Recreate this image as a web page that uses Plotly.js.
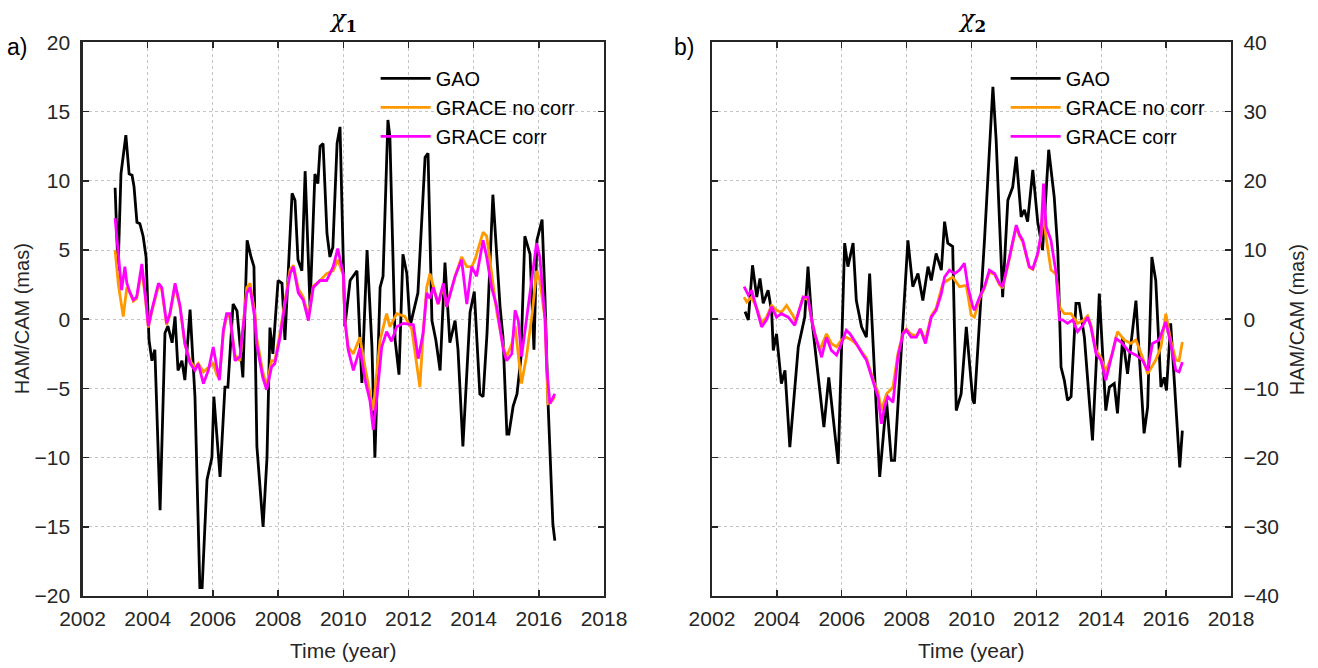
<!DOCTYPE html>
<html>
<head>
<meta charset="utf-8">
<script src="https://cdn.plot.ly/plotly-3.0.1.min.js"></script>
<style>html,body{margin:0;padding:0;background:#fff;}#chart{width:1318px;height:668px;}</style>
</head>
<body>
<div id="chart"></div>
<script>
// ---------- Panel a) chi_1 ----------
const chi1GaoT = [2003.00,2003.09,2003.18,2003.33,2003.43,2003.52,2003.58,2003.67,2003.76,2003.86,2003.95,2004.04,2004.13,2004.22,2004.38,2004.53,2004.62,2004.75,2004.84,2004.93,2005.05,2005.14,2005.30,2005.45,2005.60,2005.67,2005.82,2005.97,2006.03,2006.22,2006.37,2006.46,2006.62,2006.74,2006.92,2007.05,2007.17,2007.26,2007.35,2007.54,2007.66,2007.75,2007.84,2008.00,2008.12,2008.21,2008.43,2008.52,2008.61,2008.73,2008.83,2008.98,2009.13,2009.22,2009.29,2009.38,2009.50,2009.59,2009.68,2009.81,2009.90,2010.05,2010.21,2010.42,2010.57,2010.73,2010.88,2010.97,2011.13,2011.22,2011.37,2011.43,2011.59,2011.71,2011.83,2011.95,2012.05,2012.29,2012.51,2012.60,2012.72,2012.84,2012.97,2013.12,2013.27,2013.43,2013.52,2013.67,2013.89,2014.02,2014.19,2014.29,2014.41,2014.59,2014.81,2014.90,2015.02,2015.08,2015.21,2015.33,2015.45,2015.57,2015.73,2015.85,2015.94,2016.10,2016.19,2016.28,2016.43,2016.49];
const chi1Gao = [9.5,3.5,10.5,13.3,10.5,10.4,9.6,7.0,6.9,6.0,4.5,-1.5,-3.0,-2.2,-13.8,-1.0,-0.5,-1.7,0.2,-3.7,-3.0,-4.4,0.7,-5.6,-19.4,-19.4,-11.6,-10.0,-5.6,-11.4,-4.9,-4.9,1.1,0.6,-4.2,5.7,4.5,3.8,-9.2,-15.0,-10.0,-0.6,-2.5,2.8,2.6,-1.5,9.1,8.6,4.3,3.5,10.7,0.9,10.5,9.8,12.5,12.7,6.2,4.5,5.2,12.7,13.9,-0.5,2.8,3.5,-4.6,5.0,-2.0,-10.0,2.3,3.1,14.4,13.2,-1.5,-4.0,4.7,3.3,-0.5,1.9,11.7,12.0,-0.1,-1.5,-3.7,4.1,-1.7,-0.1,-2.2,-9.2,0.5,2.0,-5.4,-5.6,-1.0,9.0,0.9,-1.3,-8.3,-8.3,-6.3,-5.4,-2.8,6.0,4.7,-2.2,5.7,7.2,1.4,-5.9,-14.8,-16.0];

const chi1NoCorrT = [2003.00,2003.10,2003.25,2003.36,2003.46,2003.56,2003.66,2003.82,2003.92,2004.02,2004.12,2004.33,2004.43,2004.58,2004.68,2004.84,2004.99,2005.14,2005.30,2005.45,2005.55,2005.71,2005.86,2006.01,2006.12,2006.20,2006.32,2006.42,2006.52,2006.68,2006.83,2006.98,2007.04,2007.14,2007.29,2007.34,2007.53,2007.65,2007.80,2007.90,2008.06,2008.21,2008.37,2008.47,2008.62,2008.77,2008.93,2009.08,2009.29,2009.49,2009.69,2009.83,2010.00,2010.05,2010.15,2010.31,2010.51,2010.67,2010.82,2010.92,2011.02,2011.13,2011.33,2011.43,2011.64,2011.89,2012.10,2012.35,2012.45,2012.56,2012.66,2012.91,2013.07,2013.17,2013.43,2013.63,2013.79,2013.94,2014.04,2014.29,2014.40,2014.55,2014.71,2014.91,2015.01,2015.17,2015.27,2015.47,2015.62,2015.80,2015.93,2016.03,2016.19,2016.28,2016.37,2016.49];
const chi1NoCorr = [5.0,2.5,0.2,2.3,1.9,1.3,1.5,3.6,1.7,-0.6,0.5,2.4,2.2,-0.4,0.3,2.4,0.9,-1.8,-3.0,-3.5,-3.2,-3.8,-3.5,-3.2,-4.0,-4.3,-1.0,0.2,0.2,-2.6,-3.0,0.6,2.3,2.6,0.4,-1.3,-3.8,-4.8,-3.0,-3.0,-1.0,1.3,3.6,3.9,2.2,1.6,0.2,2.4,2.8,3.3,3.5,4.3,3.2,0.0,-2.0,-2.5,-1.3,-3.5,-5.2,-6.6,-4.0,-1.5,0.4,-0.55,0.4,0.2,-0.7,-4.9,-1.0,2.3,3.3,1.1,2.4,0.9,3.1,4.5,3.8,3.8,4.3,6.3,6.0,3.3,0.5,-2.0,-2.7,-1.8,-0.5,-4.65,-2.7,0.5,3.5,2.8,0.0,-6.1,-6.0,-5.6];

const chi1CorrT = [2003.00,2003.10,2003.20,2003.30,2003.36,2003.46,2003.56,2003.66,2003.82,2003.92,2004.02,2004.12,2004.33,2004.43,2004.58,2004.68,2004.84,2004.99,2005.14,2005.30,2005.45,2005.55,2005.71,2005.86,2006.01,2006.12,2006.20,2006.32,2006.42,2006.52,2006.68,2006.83,2006.98,2007.04,2007.14,2007.29,2007.34,2007.53,2007.65,2007.80,2007.90,2008.06,2008.21,2008.37,2008.47,2008.62,2008.77,2008.93,2009.08,2009.29,2009.49,2009.69,2009.83,2010.00,2010.05,2010.15,2010.31,2010.51,2010.67,2010.82,2010.92,2011.02,2011.18,2011.33,2011.48,2011.64,2011.84,2012.15,2012.30,2012.45,2012.56,2012.66,2012.76,2012.91,2013.07,2013.17,2013.43,2013.63,2013.79,2013.94,2014.09,2014.29,2014.40,2014.55,2014.71,2014.91,2015.01,2015.17,2015.27,2015.37,2015.47,2015.65,2015.80,2015.93,2016.03,2016.19,2016.24,2016.34,2016.49];
const chi1Corr = [7.3,4.8,2.1,3.8,2.6,1.9,1.4,1.6,4.0,1.9,-0.5,0.6,2.6,2.3,-0.3,0.4,2.6,1.0,-1.75,-3.2,-3.7,-3.2,-4.65,-3.7,-2.0,-3.45,-4.4,-0.8,0.4,0.4,-3.0,-2.7,0.4,1.9,2.3,0.0,-1.75,-4.2,-5.1,-3.45,-3.2,-1.3,1.1,3.3,3.8,1.9,1.4,-0.1,2.3,2.8,2.8,3.8,5.1,3.3,-0.1,-2.2,-3.7,-2.1,-4.4,-5.9,-8.0,-5.9,-2.0,-0.9,-1.6,-0.55,-0.3,-0.4,-2.85,-1.0,1.9,1.5,2.3,1.1,2.6,0.9,3.1,4.3,1.1,3.8,3.1,5.7,4.5,2.3,0.9,-2.2,-3.0,-2.5,0.65,-0.1,-2.7,0.5,3.0,5.5,4.5,0.0,-3.45,-6.1,-5.4];

// ---------- Panel b) chi_2 ----------
const chi2GaoT = [2003.02,2003.12,2003.25,2003.38,2003.48,2003.58,2003.73,2003.84,2003.89,2003.99,2004.14,2004.25,2004.40,2004.66,2004.86,2004.96,2005.07,2005.22,2005.45,2005.60,2005.89,2006.09,2006.19,2006.35,2006.45,2006.61,2006.76,2006.86,2007.17,2007.38,2007.53,2007.63,2007.78,2008.04,2008.19,2008.35,2008.50,2008.66,2008.76,2008.91,2009.07,2009.17,2009.27,2009.42,2009.53,2009.68,2009.84,2009.94,2010.04,2010.09,2010.19,2010.40,2010.66,2010.76,2010.96,2011.12,2011.27,2011.38,2011.53,2011.63,2011.73,2011.89,2012.04,2012.19,2012.38,2012.55,2012.66,2012.76,2012.86,2012.96,2013.07,2013.22,2013.32,2013.48,2013.63,2013.73,2013.84,2013.94,2014.14,2014.25,2014.40,2014.50,2014.66,2014.81,2015.07,2015.32,2015.43,2015.56,2015.68,2015.84,2015.94,2016.01,2016.14,2016.35,2016.42,2016.50];
const chi2Gao = [1.1,-0.1,7.8,3.2,5.9,2.3,4.2,1.05,-4.5,-2.1,-9.3,-7.4,-18.5,-4.0,0.3,7.6,0.3,-5.9,-15.6,-8.4,-20.9,11.0,7.6,11.0,2.7,-1.1,-2.6,6.6,-22.8,-11.7,-20.4,-20.4,-9.3,11.4,4.7,6.6,2.7,7.6,5.6,9.5,7.1,14.1,11.0,10.5,-13.2,-10.8,-1.1,-5.9,-11.7,-12.2,-4.5,11.4,33.6,25.9,3.2,17.2,19.1,23.5,14.8,15.8,14.1,21.6,14.1,10.0,24.5,17.7,10.0,-6.9,-8.8,-11.7,-11.2,2.3,2.3,-2.6,-11.7,-17.5,-6.9,3.7,-13.2,-9.8,-9.3,-13.6,-2.6,-7.9,2.7,-16.5,-12.7,9.0,5.6,-9.8,-8.4,-10.3,-0.6,-17.5,-21.4,-16.1];

const chi2NoCorrT = [2002.99,2003.07,2003.22,2003.38,2003.53,2003.68,2003.84,2003.99,2004.14,2004.30,2004.50,2004.58,2004.81,2004.96,2005.07,2005.17,2005.32,2005.53,2005.68,2005.84,2005.99,2006.14,2006.30,2006.45,2006.66,2006.76,2007.02,2007.12,2007.22,2007.38,2007.58,2007.73,2007.89,2007.99,2008.14,2008.30,2008.42,2008.58,2008.76,2008.91,2009.12,2009.42,2009.63,2009.84,2009.99,2010.09,2010.25,2010.40,2010.55,2010.71,2010.86,2010.96,2011.17,2011.38,2011.48,2011.58,2011.78,2011.89,2012.04,2012.14,2012.19,2012.45,2012.61,2012.71,2012.86,2013.07,2013.27,2013.43,2013.58,2013.68,2013.84,2013.99,2014.14,2014.34,2014.50,2014.71,2014.91,2015.07,2015.27,2015.43,2015.68,2015.84,2015.99,2016.14,2016.30,2016.40,2016.50];
const chi2NoCorr = [3.2,2.5,3.2,1.6,-0.5,0.3,2.0,1.3,1.0,2.0,0.5,-0.3,3.2,2.8,0.0,-2.0,-4.5,-2.1,-3.5,-4.0,-3.0,-2.6,-3.0,-3.6,-5.0,-5.6,-9.5,-10.5,-13.2,-10.8,-9.8,-5.0,-2.0,-1.4,-2.2,-2.4,-1.4,-3.0,0.5,1.6,5.2,6.1,4.7,4.9,0.6,0.3,3.0,4.5,6.8,6.5,5.0,4.5,8.8,13.4,12.0,11.2,7.5,7.2,9.3,11.8,15.3,7.1,6.5,1.8,0.8,0.8,-0.6,-0.2,0.5,-0.8,-4.5,-5.5,-7.6,-5.0,-1.8,-3.0,-3.5,-3.0,-5.5,-7.9,-5.9,-4.0,0.8,-3.0,-5.9,-6.0,-3.3];

const chi2CorrT = [2002.99,2003.12,2003.22,2003.38,2003.53,2003.68,2003.84,2003.99,2004.14,2004.35,2004.55,2004.81,2004.96,2005.07,2005.17,2005.38,2005.53,2005.68,2005.84,2005.99,2006.14,2006.25,2006.45,2006.66,2006.76,2007.02,2007.12,2007.22,2007.32,2007.42,2007.58,2007.73,2007.89,2007.99,2008.14,2008.30,2008.42,2008.58,2008.76,2008.91,2009.07,2009.17,2009.32,2009.48,2009.63,2009.78,2009.89,2010.04,2010.09,2010.25,2010.40,2010.55,2010.71,2010.86,2010.96,2011.17,2011.38,2011.48,2011.58,2011.78,2011.89,2012.04,2012.14,2012.22,2012.30,2012.45,2012.61,2012.71,2012.81,2012.96,2013.12,2013.27,2013.43,2013.58,2013.68,2013.84,2013.99,2014.14,2014.30,2014.45,2014.61,2014.86,2015.07,2015.27,2015.43,2015.58,2015.78,2015.99,2016.14,2016.30,2016.40,2016.50];
const chi2Corr = [4.7,3.5,4.2,1.3,-1.1,-0.1,1.8,0.3,0.8,0.3,-0.9,3.2,3.2,-0.1,-2.1,-5.5,-2.6,-4.5,-5.2,-3.5,-1.6,-2.1,-3.5,-5.2,-5.9,-9.8,-11.2,-15.1,-12.7,-11.2,-12.0,-5.5,-2.1,-1.6,-2.6,-2.6,-1.4,-3.5,0.3,1.3,3.7,6.1,7.1,6.6,7.1,8.1,4.7,1.8,1.3,3.2,4.7,7.1,6.6,5.2,4.7,9.0,13.6,12.2,11.4,7.6,7.3,9.5,12.2,19.6,13.4,11.4,6.6,-0.1,-0.1,-0.6,-0.1,-1.8,-0.9,0.3,-1.1,-5.0,-5.9,-8.8,-5.9,-2.8,-3.3,-4.7,-5.2,-5.9,-7.4,-3.5,-3.0,-0.4,-3.5,-7.4,-7.6,-6.2];

const seriesNames = ['GAO', 'GRACE no corr', 'GRACE corr'];
const seriesColors = ['#000000', '#FF9900', '#FF00FF'];

const F = 'Liberation Sans, Arial, Helvetica, sans-serif';
const AX = '#262626';

function tr(x, y, i, xa, ya, leg) {
  return {x: x, y: y, type: 'scatter', mode: 'lines', name: seriesNames[i],
    line: {color: seriesColors[i], width: 2.8}, xaxis: xa, yaxis: ya, legend: leg};
}

const data = [
  tr(chi1GaoT, chi1Gao, 0, 'x', 'y', 'legend'),
  tr(chi1NoCorrT, chi1NoCorr, 1, 'x', 'y', 'legend'),
  tr(chi1CorrT, chi1Corr, 2, 'x', 'y', 'legend'),
  tr(chi2GaoT, chi2Gao, 0, 'x2', 'y2', 'legend2'),
  tr(chi2NoCorrT, chi2NoCorr, 1, 'x2', 'y2', 'legend2'),
  tr(chi2CorrT, chi2Corr, 2, 'x2', 'y2', 'legend2')
];

function xax(dom, anchor) {
  return {domain: dom, anchor: anchor, range: [2002, 2018], dtick: 2, tick0: 2002,
    showline: true, linecolor: AX, linewidth: 2.2, mirror: 'ticks',
    ticks: 'inside', ticklen: 6, tickwidth: 1.5, tickcolor: AX,
    showgrid: true, gridcolor: '#c4c4c4', griddash: 'dot', gridwidth: 1, zeroline: false,
    tickfont: {family: F, size: 21, color: AX}, ticklabelstandoff: 3};
}
function yax(range, dtick, side, anchor) {
  return {domain: [0.1078, 0.9364], anchor: anchor, range: range, dtick: dtick, side: side,
    showline: true, linecolor: AX, linewidth: 2.2, mirror: 'ticks',
    ticks: 'inside', ticklen: 6, tickwidth: 1.5, tickcolor: AX,
    showgrid: true, gridcolor: '#c4c4c4', griddash: 'dot', gridwidth: 1, zeroline: false,
    tickfont: {family: F, size: 21, color: AX}, ticklabelstandoff: 6};
}

const legBase = {bgcolor: 'rgba(0,0,0,0)', borderwidth: 0, font: {family: F, size: 20, color: '#000'},
  xanchor: 'left', yanchor: 'top', tracegroupgap: 0, itemwidth: 50};

const layout = {
  width: 1318, height: 668,
  margin: {l: 0, r: 0, t: 0, b: 0},
  paper_bgcolor: '#fff', plot_bgcolor: '#fff',
  showlegend: true,
  xaxis: xax([0.0626, 0.4583], 'y'),
  yaxis: yax([-20, 20], 5, 'left', 'x'),
  xaxis2: xax([0.5402, 0.9340], 'y2'),
  yaxis2: yax([-40, 40], 10, 'right', 'x2'),
  legend: Object.assign({}, legBase, {x: 0.285, y: 0.912}),
  legend2: Object.assign({}, legBase, {x: 0.763, y: 0.912}),
  annotations: [
    {text: '<i>χ</i><sub><b>1</b></sub>', xref: 'paper', yref: 'paper', x: 0.2605, y: 0.995, xanchor: 'center', yanchor: 'top', showarrow: false, font: {family: 'DejaVu Serif, serif', size: 24, color: '#000'}},
    {text: '<i>χ</i><sub><b>2</b></sub>', xref: 'paper', yref: 'paper', x: 0.7372, y: 0.995, xanchor: 'center', yanchor: 'top', showarrow: false, font: {family: 'DejaVu Serif, serif', size: 24, color: '#000'}},
    {text: 'a)', xref: 'paper', yref: 'paper', x: 0.004, y: 0.952, xanchor: 'left', yanchor: 'top', showarrow: false, font: {family: F, size: 23, color: '#000'}},
    {text: 'b)', xref: 'paper', yref: 'paper', x: 0.5095, y: 0.952, xanchor: 'left', yanchor: 'top', showarrow: false, font: {family: F, size: 23, color: '#000'}},
    {text: 'Time (year)', xref: 'paper', yref: 'paper', x: 0.2605, y: 0.006, xanchor: 'center', yanchor: 'bottom', showarrow: false, font: {family: F, size: 21, color: AX}},
    {text: 'Time (year)', xref: 'paper', yref: 'paper', x: 0.7372, y: 0.006, xanchor: 'center', yanchor: 'bottom', showarrow: false, font: {family: F, size: 21, color: AX}},
    {text: 'HAM/CAM (mas)', xref: 'paper', yref: 'paper', x: 0.0167, y: 0.522, xanchor: 'center', yanchor: 'middle', textangle: -90, showarrow: false, font: {family: F, size: 20, color: AX}},
    {text: 'HAM/CAM (mas)', xref: 'paper', yref: 'paper', x: 0.984, y: 0.522, xanchor: 'center', yanchor: 'middle', textangle: -90, showarrow: false, font: {family: F, size: 20, color: AX}}
  ]
};

Plotly.newPlot('chart', data, layout, {displayModeBar: false, staticPlot: true});
</script>
</body>
</html>
